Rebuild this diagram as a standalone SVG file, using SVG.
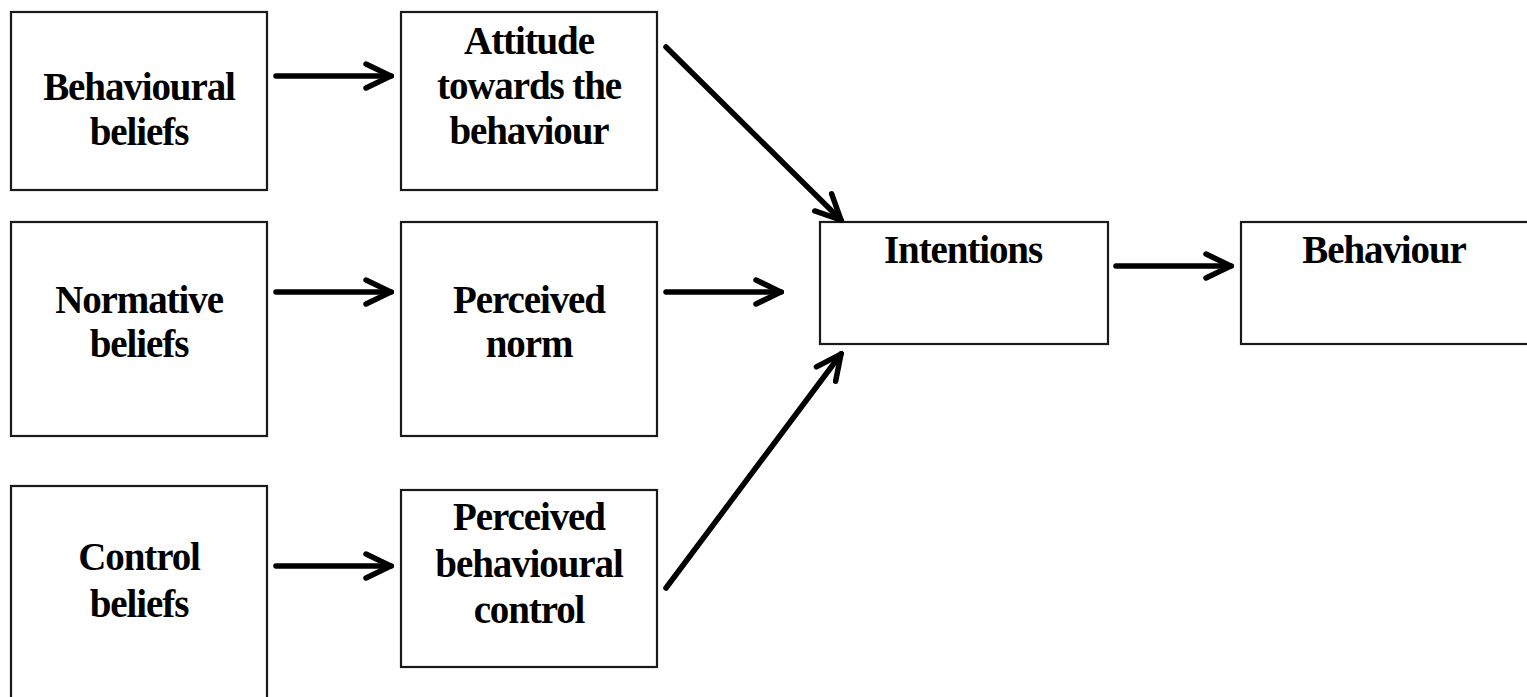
<svg xmlns="http://www.w3.org/2000/svg" width="1527" height="697" viewBox="0 0 1527 697">
<style>
.box{fill:#fff;stroke:#1a1a1a;stroke-width:2.2}
.lbl{font-family:"Liberation Serif","Times New Roman",serif;font-weight:bold;font-size:39px;letter-spacing:-1.1px;fill:#000;text-anchor:middle}
.conn{stroke:#000;stroke-width:5.5;fill:none;stroke-linecap:round;marker-end:url(#ah)}
</style>
<defs>
<marker id="ah" markerUnits="userSpaceOnUse" viewBox="0 0 32 32" markerWidth="32" markerHeight="32" refX="29" refY="16" orient="auto">
<path d="M4,4 L29,16 L4,28" fill="none" stroke="#000" stroke-width="5.5" stroke-linecap="round" stroke-linejoin="miter"/>
</marker>
</defs>
<rect width="1527" height="697" fill="#fff"/>
<g id="behavioural-beliefs"><rect class="box" x="11" y="12" width="256" height="178"/><text class="lbl" x="139" y="100">Behavioural</text><text class="lbl" x="139" y="145">beliefs</text></g>
<g id="attitude"><rect class="box" x="401" y="12" width="256" height="178"/><text class="lbl" x="529" y="54">Attitude</text><text class="lbl" x="529" y="99">towards the</text><text class="lbl" x="529" y="144">behaviour</text></g>
<g id="normative-beliefs"><rect class="box" x="11" y="222" width="256" height="214"/><text class="lbl" x="139" y="313">Normative</text><text class="lbl" x="139" y="357">beliefs</text></g>
<g id="perceived-norm"><rect class="box" x="401" y="222" width="256" height="214"/><text class="lbl" x="529" y="313">Perceived</text><text class="lbl" x="529" y="357">norm</text></g>
<g id="control-beliefs"><rect class="box" x="11" y="486" width="256" height="220"/><text class="lbl" x="139" y="570">Control</text><text class="lbl" x="139" y="617">beliefs</text></g>
<g id="pbc"><rect class="box" x="401" y="490" width="256" height="177"/><text class="lbl" x="529" y="530">Perceived</text><text class="lbl" x="529" y="577">behavioural</text><text class="lbl" x="529" y="623">control</text></g>
<g id="intentions"><rect class="box" x="820" y="222" width="288" height="122"/><text class="lbl" x="963" y="263">Intentions</text></g>
<g id="behaviour"><rect class="box" x="1241" y="222" width="290" height="122"/><text class="lbl" x="1384" y="263">Behaviour</text></g>
<g id="connectors">
<line class="conn" x1="276" y1="76" x2="391" y2="76"/>
<line class="conn" x1="276" y1="292" x2="391" y2="292"/>
<line class="conn" x1="276" y1="566" x2="391" y2="566"/>
<line class="conn" x1="666" y1="292" x2="781" y2="292"/>
<line class="conn" x1="1116" y1="266" x2="1231" y2="266"/>
<line class="conn" x1="666" y1="47" x2="841" y2="220"/>
<line class="conn" x1="666" y1="588" x2="841" y2="354"/>
</g>
</svg>
